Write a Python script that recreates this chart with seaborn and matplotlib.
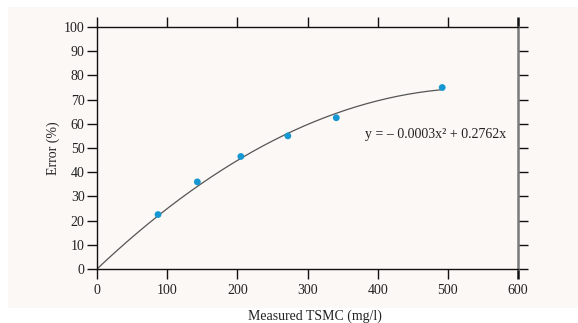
import numpy as np
import pandas as pd
import matplotlib
matplotlib.use("Agg")
import matplotlib.pyplot as plt
import seaborn as sns
from matplotlib.patches import Rectangle

# Data
tsmc = [87, 143, 205, 272, 341, 492]
error = [22.5, 36.0, 46.5, 55.0, 62.5, 75.0]
x_ticks = [0, 100, 200, 300, 400, 500, 600]
y_ticks = [0, 10, 20, 30, 40, 50, 60, 70, 80, 90, 100]
equation = "y = \u2013 0.0003x\u00b2 + 0.2762x"

sns.set_style("white")
plt.rcParams["font.family"] = ["Liberation Serif", "DejaVu Serif"]

fig = plt.figure(figsize=(5.78, 3.23), dpi=100)
fig.patch.set_facecolor("white")
fig.patches.append(Rectangle((8 / 578, 1 - 308 / 323), 1 - 8 / 578, (308 - 7) / 323,
                             transform=fig.transFigure, facecolor="#fbf8f5",
                             edgecolor="none", zorder=-10))
ax = fig.add_axes([97 / 578, 1 - 269 / 323, 421 / 578, 242 / 323])
ax.set_facecolor("none")

df = pd.DataFrame({"x": tsmc, "y": error})

# quadratic fit through the origin (y = a x^2 + b x)
X = np.column_stack([np.asarray(tsmc, float) ** 2, np.asarray(tsmc, float)])
coef, *_ = np.linalg.lstsq(X, np.asarray(error, float), rcond=None)
xf = np.linspace(0, 490, 200)
fit = pd.DataFrame({"x": xf, "y": coef[0] * xf ** 2 + coef[1] * xf})
sns.lineplot(data=fit, x="x", y="y", ax=ax, color="#555555", linewidth=0.9, zorder=2)
sns.scatterplot(data=df, x="x", y="y", ax=ax, color="#1598d2", s=24,
                edgecolor="none", zorder=3)

ax.set_xlim(0, 600)
ax.set_ylim(0, 100)
ax.set_xticks(x_ticks)
ax.set_yticks(y_ticks)
ax.tick_params(axis="both", direction="out", length=7, width=1, color="#111111",
               labelsize=10, labelcolor="#222222")
ax.tick_params(axis="x", top=True, bottom=True, pad=4)
ax.tick_params(axis="y", left=True, right=True, pad=2)

for side in ["left", "top", "bottom"]:
    ax.spines[side].set_visible(True)
    ax.spines[side].set_color("#111111")
    ax.spines[side].set_linewidth(1.0)
ax.spines["right"].set_visible(True)
ax.spines["right"].set_color("#7a7a7a")
ax.spines["right"].set_linewidth(1.8)

# the 600 ticks continue the gray right frame
xt = ax.xaxis.get_major_ticks()
xt[-1].tick1line.set_color("#7a7a7a")
xt[-1].tick2line.set_color("#7a7a7a")
xt[-1].tick1line.set_markeredgewidth(1.8)
xt[-1].tick2line.set_markeredgewidth(1.8)

ax.set_xlabel("Measured TSMC (mg/l)", fontsize=10, color="#222222")
ax.set_ylabel("Error (%)", fontsize=10, color="#222222")
ax.xaxis.set_label_coords(0.518, -0.168)
ax.yaxis.set_label_coords(-0.088, 0.5)

ax.text(382, 55.5, equation, ha="left", va="center", fontsize=10, color="#222222")

fig.savefig("out.png", dpi=100, facecolor=fig.get_facecolor())
